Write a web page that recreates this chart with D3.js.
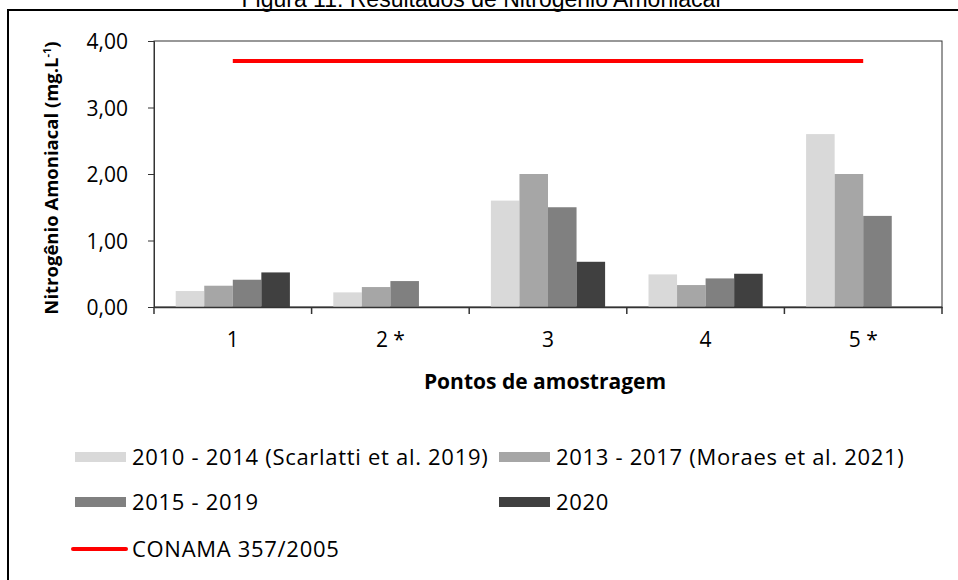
<!DOCTYPE html>
<html>
<head>
<meta charset="utf-8">
<script src="https://cdn.jsdelivr.net/npm/d3@7"></script>
<style>
  body { margin: 0; background: #fff; }
  text { font-family: "Open Sans", "DejaVu Sans", sans-serif; fill: #000; }
</style>
</head>
<body>
<script>
// Set up the SVG
var svg_width = 958;
var svg_height = 580;

var svg = d3.select("body").append("svg")
    .attr("width", svg_width)
    .attr("height", svg_height);

// Chart data
var pontos = ["1", "2 *", "3", "4", "5 *"];
var series = ["2010 - 2014 (Scarlatti et al. 2019)", "2013 - 2017 (Moraes et al. 2021)", "2015 - 2019", "2020"];
var colors = ["#d9d9d9", "#a6a6a6", "#808080", "#404040"];
var v2010_2014 = [0.24, 0.22, 1.60, 0.49, 2.60];
var v2013_2017 = [0.32, 0.30, 2.00, 0.33, 2.00];
var v2015_2019 = [0.41, 0.39, 1.50, 0.43, 1.37];
var v2020 = [0.52, null, 0.68, 0.50, null];
var conama = 3.70;
var yTicks = [0, 1, 2, 3, 4];

var values = [v2010_2014, v2013_2017, v2015_2019, v2020];

// Plot area
var margin = { left: 154, top: 41, right: 942, bottom: 307 };

var x = d3.scaleBand()
    .domain(pontos)
    .range([margin.left, margin.right])
    .paddingInner(0)
    .paddingOuter(0);

var xInner = d3.scaleBand()
    .domain(d3.range(series.length))
    .range([0, x.bandwidth()])
    .paddingOuter(0.76)
    .paddingInner(0);

var y = d3.scaleLinear()
    .domain([0, 4])
    .range([margin.bottom, margin.top]);

// Title (cut off at the top)
svg.append("text")
    .attr("x", 481)
    .attr("y", 7)
    .attr("text-anchor", "middle")
    .style("font-family", "'Liberation Sans', Arial, sans-serif")
    .style("font-size", "23px")
    .text("Figura 11: Resultados de Nitrogênio Amoniacal");

// Outer frame
svg.append("path")
    .attr("d", "M8,590 L8,10 L970,10")
    .attr("fill", "none")
    .attr("stroke", "#000")
    .attr("stroke-width", 2);

// Plot box
svg.append("rect")
    .attr("x", margin.left)
    .attr("y", margin.top)
    .attr("width", margin.right - margin.left)
    .attr("height", margin.bottom - margin.top)
    .attr("fill", "none")
    .attr("stroke", "#333")
    .attr("stroke-width", 1);

// Bars
var groups = svg.selectAll(".serie")
    .data(values)
    .enter().append("g")
    .attr("class", "serie")
    .attr("fill", function(d, i) { return colors[i]; });

groups.each(function(vals, si) {
    d3.select(this).selectAll("rect")
        .data(vals.map(function(v, ci) { return { v: v, c: pontos[ci] }; })
            .filter(function(d) { return d.v !== null; }))
        .enter().append("rect")
        .attr("x", function(d) { return x(d.c) + xInner(si); })
        .attr("y", function(d) { return y(d.v); })
        .attr("width", xInner.bandwidth())
        .attr("height", function(d) { return y(0) - y(d.v); });
});

// Y axis
var yAxis = svg.append("g")
    .attr("transform", "translate(" + margin.left + ",0)")
    .call(d3.axisLeft(y).tickValues(yTicks).tickSize(6).tickPadding(20)
        .tickFormat(function(d) { return d3.format(".2f")(d).replace(".", ","); }));
yAxis.select(".domain").attr("stroke", "#333");
yAxis.selectAll(".tick line").attr("stroke", "#333");
yAxis.selectAll("text")
    .style("font-size", "21px")
    .attr("dy", "0.36em");

// X axis
var xAxis = svg.append("g")
    .attr("transform", "translate(0," + margin.bottom + ")")
    .call(d3.axisBottom(x).tickSize(0).tickPadding(25));
xAxis.select(".domain").attr("stroke", "#333").attr("stroke-width", 1.5);
xAxis.selectAll("text").style("font-size", "21px");

// Category boundary ticks
svg.append("g")
    .selectAll("line")
    .data(pontos.concat(["end"]))
    .enter().append("line")
    .attr("x1", function(d, i) { return margin.left + i * x.step(); })
    .attr("x2", function(d, i) { return margin.left + i * x.step(); })
    .attr("y1", margin.bottom)
    .attr("y2", margin.bottom + 7)
    .attr("stroke", "#333")
    .attr("stroke-width", 1.5);

// CONAMA line
svg.append("line")
    .attr("x1", x(pontos[0]) + x.bandwidth() / 2)
    .attr("x2", x(pontos[pontos.length - 1]) + x.bandwidth() / 2)
    .attr("y1", y(conama))
    .attr("y2", y(conama))
    .attr("stroke", "#ff0000")
    .attr("stroke-width", 4);

// Axis titles
svg.append("text")
    .attr("x", 545)
    .attr("y", 389)
    .attr("text-anchor", "middle")
    .style("font-size", "21px")
    .style("font-weight", "bold")
    .text("Pontos de amostragem");

var yTitle = svg.append("text")
    .attr("transform", "translate(58,178) rotate(-90)")
    .attr("text-anchor", "middle")
    .style("font-size", "18.5px")
    .style("font-weight", "bold");
yTitle.append("tspan").text("Nitrogênio Amoniacal (mg.L");
yTitle.append("tspan").attr("dy", -7).style("font-size", "11px").text("-1");
yTitle.append("tspan").attr("dy", 7).text(")");

// Legend
var legendPos = [[75, 457], [499, 457], [75, 502], [499, 502]];
var legend = svg.selectAll(".legend")
    .data(series)
    .enter().append("g")
    .attr("class", "legend")
    .attr("transform", function(d, i) { return "translate(" + legendPos[i][0] + "," + legendPos[i][1] + ")"; });

legend.append("rect")
    .attr("x", 0)
    .attr("y", -5)
    .attr("width", 51)
    .attr("height", 10)
    .attr("fill", function(d, i) { return colors[i]; });

legend.append("text")
    .attr("x", 57)
    .attr("dy", "0.35em")
    .style("font-size", "22px")
    .style("letter-spacing", "0.7px")
    .text(function(d) { return d; });

var conLegend = svg.append("g").attr("transform", "translate(75,549)");
conLegend.append("line")
    .attr("x1", -2).attr("x2", 51)
    .attr("stroke", "#ff0000")
    .attr("stroke-width", 4)
    .attr("stroke-linecap", "round");
conLegend.append("text")
    .attr("x", 57)
    .attr("dy", "0.35em")
    .style("font-size", "22px")
    .style("letter-spacing", "0.7px")
    .text("CONAMA 357/2005");
</script>
</body>
</html>
